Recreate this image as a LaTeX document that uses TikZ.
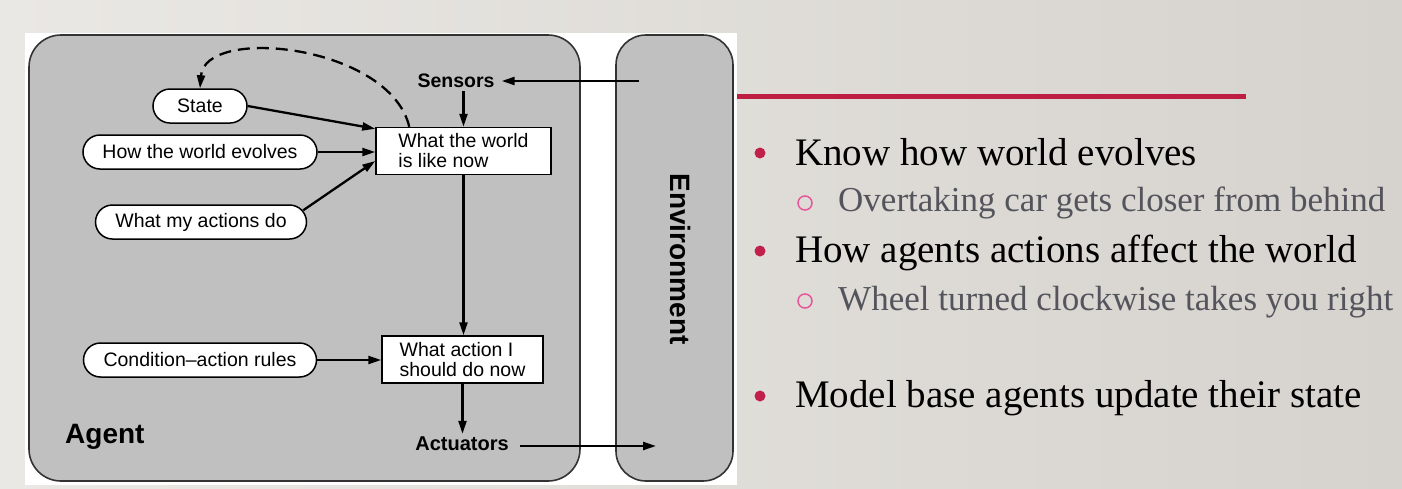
\documentclass[tikz,border=0pt]{standalone}
\usepackage{fontspec}
\setmainfont{Liberation Serif}
\newfontfamily\diagfont[Ligatures=TeX]{Liberation Sans}
\usetikzlibrary{arrows.meta}
\definecolor{slideleft}{HTML}{EAE8E4}
\definecolor{slideright}{HTML}{D6D3CE}
\definecolor{diaggray}{HTML}{C0C0C0}
\definecolor{panelline}{HTML}{333333}
\definecolor{bulletred}{HTML}{C0204A}
\definecolor{ringpink}{HTML}{E8559A}
\definecolor{subgray}{HTML}{54545C}
\definecolor{rulered}{HTML}{BE1E41}
\newcommand{\bulletText}[0]{\fontsize{39}{40}\selectfont}
\newcommand{\subText}[0]{\fontsize{35}{37}\selectfont}
\newcommand{\boxText}[0]{\diagfont\fontsize{19.5}{20}\selectfont}

\begin{document}
\begin{tikzpicture}[x=1pt, y=-1pt]
  \tikzset{
    memory/.style={draw, fill=white, line width=1.5pt, rounded corners=17pt,
      minimum height=34pt, inner sep=0pt, font=\boxText},
    stagebox/.style={draw, fill=white, line width=1.5pt, align=left,
      minimum height=47pt, inner sep=0pt, font=\boxText},
    port/.style={font=\boxText\bfseries, inner sep=3pt},
    flow/.style={-{Triangle[length=13pt,width=8pt]}, line width=2.3pt},
    panel/.style={draw=panelline, fill=diaggray, line width=1.6pt},
    dot/.style={circle, fill=bulletred, minimum size=11pt, inner sep=0pt},
    ring/.style={circle, draw=ringpink, line width=1.5pt, minimum size=14pt, inner sep=0pt},
    point/.style={anchor=base west, inner sep=0pt}
  }
  \useasboundingbox (0,0) rectangle (1402,488);
  \shade[left color=slideleft, right color=slideright] (0,0) rectangle (1402,488);

  \fill[white] (25,33) rectangle (737,485);
  \draw[panel, rounded corners=32pt] (29,35) rectangle (580,481);
  \draw[panel, rounded corners=30pt] (616,35) rectangle (733,481);

  \node[memory, minimum width=94pt] (state) at (200,106) {State};
  \node[memory, minimum width=234pt] (evolve) at (200,152) {How the world evolves};
  \node[memory, minimum width=211pt] (acts) at (201,222) {What my actions do};
  \node[memory, minimum width=233pt] (rules) at (200,360) {Condition\textendash action rules};
  \node[stagebox, minimum width=175pt] (world) at (463.5,151) {What the world\\is like now};
  \node[stagebox, minimum width=161pt] (action) at (462.5,359.5) {What action I\\should do now};
  \node[port] (sensors) at (456,81) {Sensors};
  \node[port, font=\diagfont\fontsize{20}{20}\selectfont\bfseries] (actuators) at (462,444) {Actuators};
  \node[point, font=\diagfont\fontsize{28}{28}\selectfont\bfseries] (agent) at (65,443) {Agent};
  \node[rotate=-90, font=\diagfont\fontsize{28}{28}\selectfont\bfseries] (environment) at (680,259) {Environment};
  \coordinate (envout) at (639,81);
  \coordinate (envin) at (656,446);

  \draw[flow, shorten >=4pt] (envout) -- (sensors.east);
  \draw[flow] (sensors.south -| world) -- (world.north);
  \draw[flow] (state.east) -- ([yshift=-2pt]world.north west);
  \draw[flow] (evolve.east) -- (evolve.east -| world.west);
  \draw[flow] ([xshift=-4pt,yshift=-6pt]acts.north east) -- ([yshift=-10pt]world.west);
  \draw[flow] (world.south) -- (world.south |- action.north);
  \draw[flow] (rules.east) -- (rules.east -| action.west);
  \draw[flow] (action.south) -- (action.south |- actuators.north);
  \draw[flow, shorten <=8pt] (actuators.east |- envin) -- (envin);
  \draw[flow, dash pattern=on 12pt off 7pt] ([xshift=34pt]world.north west)
    .. controls (390,45) and (205,25) .. (state.north);

  \draw[rulered, line width=5pt] (737,96.5) -- (1246,96.5);

  \node[dot] (dknow) at (760,153) {};
  \node[point, font=\bulletText] (know) at (795,165) {Know how world evolves};
  \node[ring] (rover) at (805,203) {};
  \node[point, font=\subText, text=subgray] (over) at (838,211) {Overtaking car gets closer from behind};
  \node[dot] (dagents) at (760,251) {};
  \node[point, font=\bulletText] (agents) at (795,262) {How agents actions affect the world};
  \node[ring] (rwheel) at (805,301) {};
  \node[point, font=\subText, text=subgray] (wheel) at (838,310) {Wheel turned clockwise takes you right};
  \node[dot] (dmodel) at (760,396) {};
  \node[point, font=\bulletText] (model) at (795,407) {Model base agents update their state};
\end{tikzpicture}
\end{document}
